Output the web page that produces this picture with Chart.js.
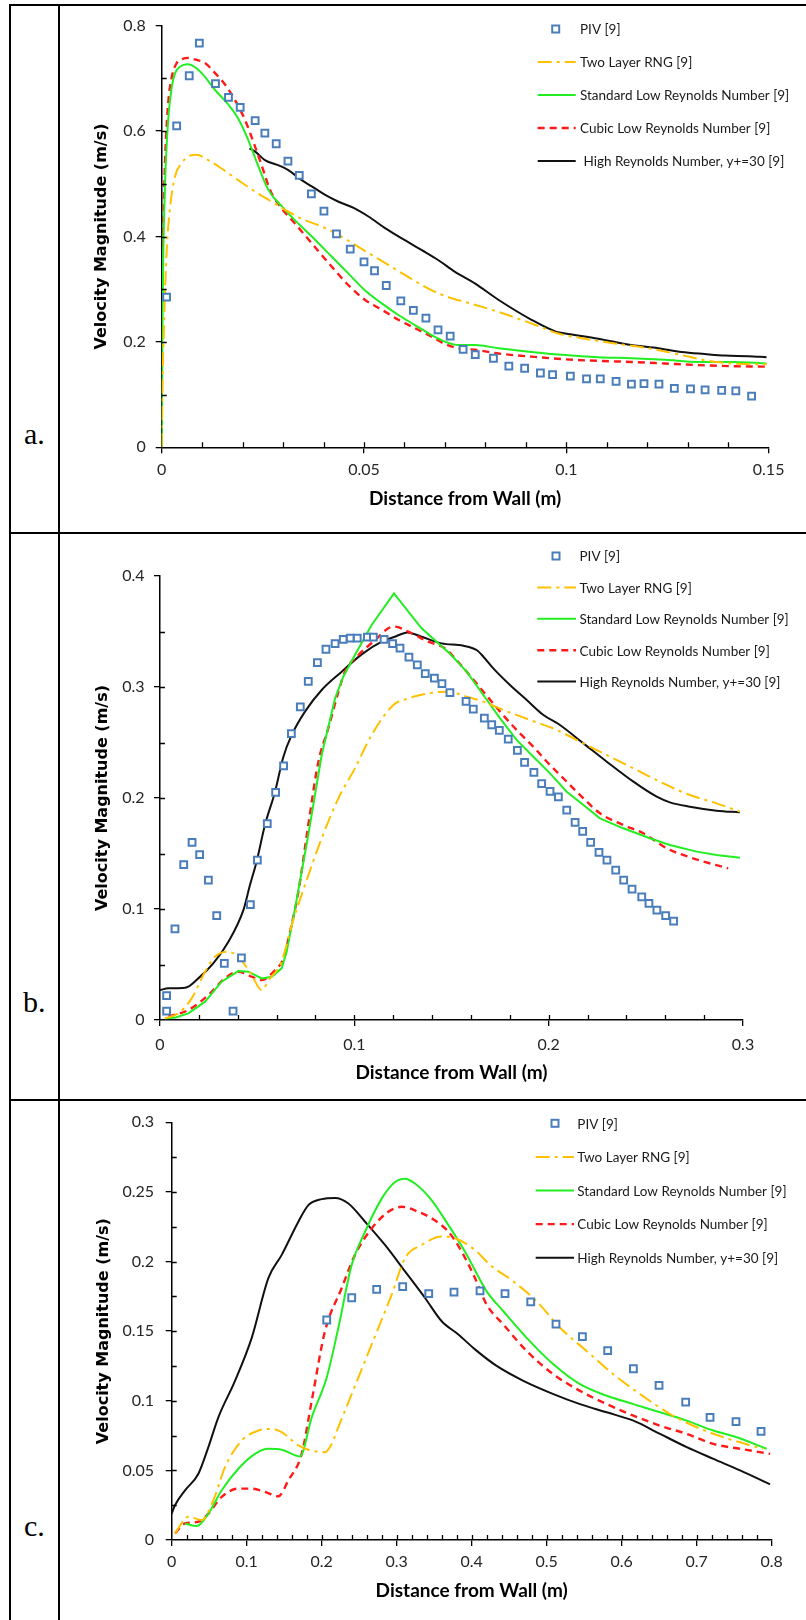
<!DOCTYPE html>
<html>
<head>
<meta charset="utf-8">
<title>Velocity magnitude profiles</title>
<script src="https://cdn.jsdelivr.net/npm/chart.js@4.4.0/dist/chart.umd.min.js"></script>
<style>
  body { margin: 0; background: #fff; width: 806px; height: 1620px; position: relative; overflow: hidden; }
  .rule { position: absolute; background: #000; }
  .tag { position: absolute; font-family: "Liberation Serif", serif; font-size: 30px; line-height: 30px; color: #000; }
  canvas { position: absolute; left: 61px; }
</style>
</head>
<body>
<!-- table frame -->
<div class="rule" style="left:9px;top:4px;width:797px;height:2px"></div>
<div class="rule" style="left:9px;top:4px;width:2px;height:1616px"></div>
<div class="rule" style="left:58px;top:4px;width:2px;height:1616px"></div>
<div class="rule" style="left:9px;top:532px;width:797px;height:2px"></div>
<div class="rule" style="left:9px;top:1099px;width:797px;height:2px"></div>

<div class="tag" style="left:24px;top:419px">a.</div>
<div class="tag" style="left:23px;top:987px">b.</div>
<div class="tag" style="left:24px;top:1511px">c.</div>

<canvas id="chartA" width="745" height="526" style="top:6px"></canvas>
<canvas id="chartB" width="745" height="565" style="top:534px"></canvas>
<canvas id="chartC" width="745" height="519" style="top:1101px"></canvas>

<script>
// series names (same in all three panels)
const seriesNames = ['PIV [9]', 'Two Layer RNG [9]', 'Standard Low Reynolds Number [9]',
                     'Cubic Low Reynolds Number [9]', 'High Reynolds Number, y+=30 [9]'];

// ---- panel a: [distance (m), velocity (m/s)] ----
const pivA = [[0.0012,0.285],[0.0037,0.610],[0.0068,0.705],[0.0093,0.767],[0.0133,0.690],[0.0165,0.664],
  [0.0194,0.645],[0.0231,0.620],[0.0255,0.596],[0.0283,0.576],[0.0312,0.543],[0.0340,0.516],[0.0370,0.481],
  [0.0401,0.448],[0.0432,0.405],[0.0466,0.376],[0.0500,0.352],[0.0526,0.335],[0.0555,0.307],[0.0591,0.278],
  [0.0622,0.260],[0.0653,0.245],[0.0683,0.223],[0.0713,0.211],[0.0745,0.186],[0.0775,0.176],[0.0820,0.169],
  [0.0858,0.154],[0.0897,0.150],[0.0936,0.141],[0.0966,0.138],[0.1010,0.135],[0.1050,0.130],[0.1084,0.130],
  [0.1123,0.125],[0.1161,0.120],[0.1192,0.121],[0.1229,0.120],[0.1267,0.112],[0.1307,0.111],[0.1343,0.109],
  [0.1384,0.108],[0.1419,0.107],[0.1458,0.097]];
const rngA = [[0,0],[0.0002,0.115],[0.0006,0.24],[0.0012,0.368],[0.0021,0.457],[0.0033,0.514],[0.0049,0.539],
  [0.0066,0.552],[0.0086,0.555],[0.0115,0.545],[0.0148,0.529],[0.0189,0.507],[0.0231,0.485],[0.0272,0.466],
  [0.0313,0.447],[0.0354,0.431],[0.0395,0.419],[0.0437,0.403],[0.0478,0.384],[0.0519,0.365],[0.0560,0.346],
  [0.0601,0.327],[0.0643,0.308],[0.0684,0.292],[0.0725,0.281],[0.0749,0.276],[0.0832,0.257],[0.0914,0.235],
  [0.0980,0.216],[0.1038,0.207],[0.1120,0.197],[0.1202,0.188],[0.1285,0.175],[0.1351,0.164],[0.1408,0.159],
  [0.1495,0.1575]];
const stdA = [[0,0],[0.0002,0.24],[0.0004,0.368],[0.0008,0.495],[0.0016,0.621],[0.0025,0.684],[0.0033,0.710],
  [0.0045,0.722],[0.0063,0.727],[0.0074,0.725],[0.0099,0.710],[0.0132,0.678],[0.0165,0.650],[0.0189,0.624],
  [0.0214,0.583],[0.0239,0.533],[0.0264,0.488],[0.0297,0.457],[0.0329,0.431],[0.0371,0.400],[0.0420,0.362],
  [0.0461,0.330],[0.0502,0.298],[0.0544,0.273],[0.0585,0.251],[0.0626,0.232],[0.0667,0.213],[0.0700,0.2005],
  [0.0733,0.194],[0.0774,0.194],[0.0832,0.188],[0.0914,0.181],[0.0997,0.175],[0.1079,0.171],[0.1161,0.169],
  [0.1244,0.166],[0.1326,0.162],[0.1408,0.162],[0.1495,0.159]];
const cubicA = [[0.0002,0.38],[0.0005,0.46],[0.0009,0.558],[0.0016,0.653],[0.0025,0.703],[0.0037,0.729],
  [0.0049,0.736],[0.0066,0.739],[0.0082,0.736],[0.0107,0.729],[0.0132,0.710],[0.0157,0.688],[0.0181,0.659],
  [0.0206,0.621],[0.0231,0.570],[0.0251,0.526],[0.0268,0.488],[0.0297,0.453],[0.0329,0.425],[0.0371,0.387],
  [0.0420,0.343],[0.0461,0.308],[0.0502,0.280],[0.0544,0.261],[0.0585,0.242],[0.0626,0.226],[0.0667,0.210],
  [0.0700,0.196],[0.0733,0.188],[0.0774,0.185],[0.0832,0.178],[0.0914,0.172],[0.0997,0.167],[0.1079,0.164],
  [0.1161,0.162],[0.1244,0.159],[0.1326,0.156],[0.1408,0.154],[0.1495,0.153]];
const highA = [[0.0217,0.567],[0.0231,0.561],[0.0255,0.545],[0.0292,0.534],[0.0313,0.526],[0.0346,0.507],
  [0.0371,0.495],[0.0404,0.479],[0.0437,0.466],[0.0478,0.453],[0.0511,0.438],[0.0552,0.416],[0.0601,0.393],
  [0.0643,0.374],[0.0684,0.355],[0.0725,0.333],[0.0774,0.311],[0.0832,0.280],[0.0914,0.242],[0.0976,0.219],
  [0.0997,0.216],[0.1079,0.206],[0.1161,0.194],[0.1227,0.188],[0.1285,0.181],[0.1342,0.177],[0.1392,0.174],
  [0.1450,0.173],[0.1495,0.171]];
const xTicksA = [0, 0.05, 0.1, 0.15];
const xLabelsA = ['0', '0.05', '0.1', '0.15'];
const yTicksA = [0, 0.2, 0.4, 0.6, 0.8];
const yLabelsA = ['0', '0.2', '0.4', '0.6', '0.8'];

// ---- panel b ----
const pivB = [[0.0034,0.022],[0.0034,0.008],[0.0077,0.082],[0.0122,0.140],[0.0165,0.160],[0.0204,0.149],
  [0.0249,0.126],[0.0292,0.094],[0.0331,0.051],[0.0376,0.008],[0.0419,0.056],[0.0465,0.104],[0.0501,0.144],
  [0.0552,0.177],[0.0595,0.205],[0.0636,0.229],[0.0676,0.258],[0.0722,0.282],[0.0763,0.305],[0.0810,0.322],
  [0.0854,0.334],[0.0901,0.339],[0.0943,0.343],[0.0979,0.344],[0.1015,0.344],[0.1067,0.345],[0.1098,0.345],
  [0.1153,0.343],[0.1197,0.339],[0.1235,0.335],[0.1281,0.327],[0.1324,0.320],[0.1365,0.312],[0.1412,0.308],
  [0.1451,0.303],[0.1492,0.295],[0.1575,0.287],[0.1612,0.280],[0.1669,0.272],[0.1707,0.266],[0.1746,0.261],
  [0.1792,0.253],[0.1839,0.243],[0.1876,0.232],[0.1924,0.223],[0.1964,0.213],[0.2007,0.206],[0.2050,0.201],
  [0.2093,0.189],[0.2136,0.178],[0.2175,0.170],[0.2216,0.160],[0.2259,0.151],[0.2300,0.144],[0.2345,0.135],
  [0.2386,0.126],[0.2429,0.118],[0.2479,0.111],[0.2516,0.105],[0.2557,0.099],[0.2602,0.094],[0.2643,0.089]];
const rngB = [[0.0026,0.0015],[0.0094,0.006],[0.0163,0.0195],[0.0232,0.0435],[0.0283,0.057],[0.0343,0.0616],
  [0.0403,0.057],[0.0472,0.0405],[0.0523,0.027],[0.0566,0.0375],[0.0626,0.0526],[0.0678,0.0856],[0.0746,0.1216],
  [0.0832,0.1637],[0.0918,0.1997],[0.1003,0.2267],[0.1089,0.2568],[0.1201,0.2838],[0.1278,0.2898],[0.1381,0.2943],
  [0.1484,0.2958],[0.1578,0.2913],[0.1664,0.2868],[0.1767,0.2793],[0.1904,0.2703],[0.2041,0.2613],[0.2179,0.2492],
  [0.2316,0.2372],[0.2453,0.2252],[0.2590,0.2132],[0.2727,0.2027],[0.2864,0.1952],[0.2984,0.1877]];
const stdB = [[0.0026,0.0015],[0.0077,0.002],[0.0146,0.006],[0.0232,0.0165],[0.0317,0.0345],[0.0403,0.0441],
  [0.0455,0.0435],[0.0523,0.0375],[0.0575,0.039],[0.0626,0.0465],[0.0652,0.0616],[0.0695,0.1006],[0.0763,0.1667],
  [0.0832,0.2387],[0.0901,0.2898],[0.0943,0.3093],[0.1003,0.3288],[0.1089,0.3559],[0.1204,0.3844],[0.1346,0.3529],
  [0.1492,0.3300],[0.1578,0.3138],[0.1664,0.2928],[0.1750,0.2718],[0.1835,0.2523],[0.1921,0.2372],[0.2007,0.2222],
  [0.2093,0.2057],[0.2179,0.1937],[0.2264,0.1817],[0.2384,0.1727],[0.2521,0.1637],[0.2624,0.1577],[0.2761,0.1517],
  [0.2864,0.1486],[0.2984,0.1462]];
const cubicB = [[0.0043,0.003],[0.0146,0.009],[0.0249,0.0225],[0.0334,0.0375],[0.0403,0.0435],[0.0472,0.039],
  [0.0523,0.036],[0.0592,0.045],[0.0635,0.0556],[0.0669,0.0796],[0.0712,0.1156],[0.0763,0.1757],[0.0815,0.2327],
  [0.0866,0.2628],[0.0918,0.2958],[0.0952,0.3138],[0.1021,0.3288],[0.1107,0.3423],[0.1175,0.3529],[0.1209,0.3544],
  [0.1278,0.3498],[0.1381,0.3408],[0.1467,0.3348],[0.1518,0.3258],[0.1578,0.3138],[0.1664,0.2958],[0.1750,0.2778],
  [0.1835,0.2613],[0.1921,0.2462],[0.2007,0.2297],[0.2093,0.2147],[0.2179,0.1997],[0.2264,0.1862],[0.2384,0.1757],
  [0.2487,0.1682],[0.2607,0.1547],[0.2744,0.1456],[0.2924,0.1366]];
const highB = [[0,0.027],[0.0043,0.0285],[0.0129,0.029],[0.0197,0.0375],[0.0274,0.051],[0.0352,0.0706],
  [0.0429,0.099],[0.0463,0.1216],[0.0497,0.1426],[0.0540,0.1757],[0.0592,0.2057],[0.0635,0.2372],[0.0678,0.2568],
  [0.0746,0.2778],[0.0832,0.2973],[0.0935,0.3138],[0.1038,0.3294],[0.1141,0.3408],[0.1209,0.3453],[0.1273,0.3492],
  [0.1346,0.3453],[0.1449,0.3393],[0.1561,0.3372],[0.1629,0.3333],[0.1664,0.3273],[0.1715,0.3168],[0.1801,0.3018],
  [0.1887,0.2883],[0.1973,0.2748],[0.2058,0.2658],[0.2179,0.2492],[0.2299,0.2327],[0.2436,0.2147],[0.2556,0.2012],
  [0.2624,0.1961],[0.2727,0.1922],[0.2864,0.1886],[0.2984,0.1871]];
const xTicksB = [0, 0.1, 0.2, 0.3];
const xLabelsB = ['0', '0.1', '0.2', '0.3'];
const yTicksB = [0, 0.1, 0.2, 0.3, 0.4];
const yLabelsB = ['0', '0.1', '0.2', '0.3', '0.4'];

// ---- panel c ----
const pivC = [[0.2067,0.158],[0.2400,0.174],[0.2733,0.180],[0.3080,0.182],[0.3427,0.177],[0.3764,0.178],
  [0.4111,0.179],[0.4444,0.177],[0.4787,0.171],[0.5124,0.155],[0.5476,0.146],[0.5813,0.136],[0.6156,0.123],
  [0.6498,0.111],[0.6853,0.099],[0.7178,0.088],[0.7524,0.085],[0.7858,0.078]];
const rngC = [[0.0044,0.0048],[0.0222,0.0167],[0.0400,0.0143],[0.0556,0.0286],[0.0711,0.0524],[0.0933,0.0714],
  [0.1156,0.0786],[0.1333,0.0798],[0.1467,0.0774],[0.1689,0.0679],[0.1822,0.0648],[0.2044,0.0631],[0.2133,0.069],
  [0.2222,0.081],[0.2400,0.1048],[0.2578,0.1286],[0.2756,0.1524],[0.2933,0.1762],[0.3111,0.2024],[0.3333,0.2119],
  [0.3600,0.2179],[0.3778,0.2167],[0.4044,0.2083],[0.4244,0.1976],[0.4556,0.1857],[0.4867,0.1714],[0.5178,0.1524],
  [0.5533,0.1357],[0.5889,0.119],[0.6244,0.1048],[0.6644,0.0905],[0.7000,0.081],[0.7356,0.0738],[0.7799,0.0667],
  [0.7888,0.0655]];
const stdC = [[0.0178,0.0119],[0.0333,0.010],[0.0489,0.019],[0.0667,0.0357],[0.0889,0.0512],[0.1111,0.0619],
  [0.1289,0.0655],[0.1467,0.0648],[0.1711,0.060],[0.1867,0.0881],[0.2067,0.1167],[0.2222,0.1524],[0.2400,0.1976],
  [0.2578,0.2214],[0.2800,0.2452],[0.2978,0.2571],[0.3111,0.2595],[0.3244,0.256],[0.3467,0.244],[0.3689,0.2262],
  [0.3911,0.2071],[0.4200,0.1786],[0.4422,0.1643],[0.4733,0.1452],[0.5089,0.1262],[0.5444,0.1119],[0.5800,0.1036],
  [0.6156,0.0976],[0.6511,0.0917],[0.6867,0.0857],[0.7222,0.0786],[0.7533,0.0738],[0.7933,0.0655]];
const cubicC = [[0.0044,0.0048],[0.0178,0.0119],[0.0356,0.0131],[0.0489,0.019],[0.0667,0.031],[0.0889,0.0369],
  [0.1067,0.0369],[0.1244,0.0345],[0.1422,0.0314],[0.1556,0.0429],[0.1733,0.0619],[0.1867,0.100],[0.2044,0.150],
  [0.2267,0.181],[0.2444,0.2048],[0.2667,0.2238],[0.2889,0.2357],[0.3067,0.2393],[0.3289,0.2357],[0.3467,0.231],
  [0.3689,0.2214],[0.3867,0.2071],[0.4044,0.1881],[0.4200,0.169],[0.4422,0.1548],[0.4733,0.1357],[0.5089,0.119],
  [0.5444,0.1071],[0.5800,0.0976],[0.6156,0.0893],[0.6511,0.0821],[0.6867,0.0762],[0.7222,0.069],[0.7578,0.0655],
  [0.7978,0.0619]];
const highC = [[0,0.019],[0.0044,0.025],[0.0178,0.0357],[0.0356,0.0476],[0.0489,0.0667],[0.0622,0.0881],
  [0.0844,0.1143],[0.1067,0.1452],[0.1289,0.1881],[0.1467,0.2048],[0.1689,0.2286],[0.1822,0.2405],[0.2000,0.2448],
  [0.2178,0.2457],[0.2356,0.2417],[0.2578,0.2286],[0.2844,0.2119],[0.3111,0.1929],[0.3378,0.1738],[0.3600,0.1571],
  [0.3822,0.1476],[0.4044,0.1369],[0.4333,0.125],[0.4689,0.1143],[0.5089,0.1048],[0.5444,0.0976],[0.5800,0.0917],
  [0.6156,0.0857],[0.6511,0.0762],[0.6867,0.0667],[0.7222,0.0583],[0.7578,0.050],[0.7978,0.040]];
const xTicksC = [0, 0.1, 0.2, 0.3, 0.4, 0.5, 0.6, 0.7, 0.8];
const xLabelsC = ['0', '0.1', '0.2', '0.3', '0.4', '0.5', '0.6', '0.7', '0.8'];
const yTicksC = [0, 0.05, 0.1, 0.15, 0.2, 0.25, 0.3];
const yLabelsC = ['0', '0.05', '0.1', '0.15', '0.2', '0.25', '0.3'];

const BLUE = '#4a7ebb', GOLD = '#ffc000', GREEN = '#22ee22', RED = '#ff1a1a', BLACK = '#111';

// minor (inside) tick marks and the legend drawn inside the plot
const extras = {
  id: 'extras',
  afterDraw(chart, args, opts) {
    const { ctx, chartArea: area, scales: { x, y } } = chart;
    ctx.save();
    ctx.strokeStyle = '#000';
    ctx.lineWidth = 1.3;
    ctx.beginPath();
    for (let v = opts.xMinor; v < x.max - 1e-9; v += opts.xMinor) {
      const px = Math.round(x.getPixelForValue(v)) + 0.5;
      ctx.moveTo(px, area.bottom);
      ctx.lineTo(px, area.bottom - 5);
    }
    for (let v = opts.yMinor; v < y.max - 1e-9; v += opts.yMinor) {
      const py = Math.round(y.getPixelForValue(v)) + 0.5;
      ctx.moveTo(area.left, py);
      ctx.lineTo(area.left + 5, py);
    }
    ctx.stroke();

    const lg = opts.legend;
    ctx.font = '13.5px Lato';
    ctx.fillStyle = '#1a1a1a';
    ctx.textBaseline = 'middle';
    chart.data.datasets.forEach((ds, i) => {
      const ly = lg.y0 + i * lg.dy;
      if (ds.showLine === false) {
        const s = 3.5;
        ctx.setLineDash([]);
        ctx.lineWidth = 2;
        ctx.strokeStyle = ds.borderColor;
        ctx.fillStyle = '#fff';
        ctx.fillRect(lg.mark - s, ly - s, 2 * s, 2 * s);
        ctx.strokeRect(lg.mark - s, ly - s, 2 * s, 2 * s);
        ctx.fillStyle = '#1a1a1a';
      } else {
        ctx.setLineDash(ds.borderDash || []);
        ctx.lineWidth = ds.borderWidth;
        ctx.strokeStyle = ds.borderColor;
        ctx.beginPath();
        ctx.moveTo(lg.x0, ly);
        ctx.lineTo(lg.x1, ly);
        ctx.stroke();
      }
      ctx.setLineDash([]);
      const label = (lg.lead && i === 4) ? ' ' + ds.label : ds.label;
      ctx.fillText(label, lg.text, ly + 1);
    });
    ctx.restore();
  }
};

const pts = arr => arr.map(p => ({ x: p[0], y: p[1] }));

function makeChart(id, p) {
  const lineSet = (label, data, color, width, dash, sharp) => ({
    label, data: pts(data), showLine: true, borderColor: color, backgroundColor: color,
    borderWidth: width, borderDash: dash, pointRadius: 0,
    cubicInterpolationMode: sharp ? 'default' : 'monotone', tension: sharp ? 0 : 0.4
  });
  return new Chart(document.getElementById(id), {
    type: 'scatter',
    data: {
      datasets: [
        { label: seriesNames[0], data: pts(p.piv), showLine: false, pointStyle: 'rect', pointRadius: 4.8,
          borderWidth: 2, borderColor: BLUE, backgroundColor: '#fff' },
        lineSet(seriesNames[1], p.rng, GOLD, 2, [14, 5, 3, 5]),
        lineSet(seriesNames[2], p.std, GREEN, 2, [], p.sharpStd),
        lineSet(seriesNames[3], p.cubic, RED, 2.4, [7, 5]),
        lineSet(seriesNames[4], p.high, BLACK, 2, [])
      ]
    },
    options: {
      responsive: false,
      animation: false,
      events: [],
      layout: { padding: { top: p.box.top, right: p.box.right, left: 0, bottom: 0 } },
      plugins: {
        legend: { display: false },
        tooltip: { enabled: false },
        extras: { xMinor: p.xMinor, yMinor: p.yMinor, legend: p.legend }
      },
      scales: {
        x: {
          type: 'linear', min: p.xTicks[0], max: p.xTicks[p.xTicks.length - 1],
          afterBuildTicks: s => { s.ticks = p.xTicks.map(v => ({ value: v })); },
          afterFit: s => { s.height = p.box.bottom; },
          ticks: { callback: (v, i) => p.xLabels[i], font: { family: 'Lato', size: 16 }, color: '#262626',
                   padding: p.xPad, maxRotation: 0, autoSkip: false },
          grid: { drawOnChartArea: false, drawTicks: true, tickLength: 6, color: '#000', lineWidth: 1.3 },
          border: { color: '#000', width: 1.5 },
          title: { display: true, text: 'Distance from Wall (m)', color: '#000',
                   font: { family: 'Lato', size: 19, weight: 'bold' }, padding: { top: 0, bottom: p.xTitlePad } }
        },
        y: {
          type: 'linear', min: p.yTicks[0], max: p.yTicks[p.yTicks.length - 1],
          afterBuildTicks: s => { s.ticks = p.yTicks.map(v => ({ value: v })); },
          afterFit: s => { s.width = p.box.left; },
          ticks: { callback: (v, i) => p.yLabels[i], font: { family: 'Lato', size: 16 }, color: '#262626',
                   padding: p.yPad, autoSkip: false },
          grid: { drawOnChartArea: false, drawTicks: true, tickLength: 6, color: '#000', lineWidth: 1.3 },
          border: { color: '#000', width: 1.5 },
          title: { display: true, text: 'Velocity Magnitude (m/s)', color: '#000',
                   font: { family: 'DejaVu Sans', size: 16, weight: 'bold' }, padding: { top: p.yTitlePad, bottom: 0 } }
        }
      }
    },
    plugins: [extras]
  });
}

makeChart('chartA', {
  piv: pivA, rng: rngA, std: stdA, cubic: cubicA, high: highA,
  xTicks: xTicksA, xLabels: xLabelsA, yTicks: yTicksA, yLabels: yLabelsA, xMinor: 0.01, yMinor: 0.1,
  box: { left: 100.7, right: 37.4, top: 19.7, bottom: 84.7 },
  xPad: 7, yPad: 10, xTitlePad: 21.6, yTitlePad: 31.4,
  legend: { mark: 494.7, x0: 476.7, x1: 514.7, text: 519, y0: 23, dy: 33, lead: true }
});

makeChart('chartB', {
  piv: pivB, rng: rngB, std: stdB, cubic: cubicB, high: highB, sharpStd: true,
  xTicks: xTicksB, xLabels: xLabelsB, yTicks: yTicksB, yLabels: yLabelsB, xMinor: 0.02, yMinor: 0.05,
  box: { left: 99, right: 63, top: 42, bottom: 79 },
  xPad: 9, yPad: 9.5, xTitlePad: 14.6, yTitlePad: 32.4,
  legend: { mark: 495, x0: 476.3, x1: 515, text: 518.5, y0: 22, dy: 31.4, lead: false }
});

makeChart('chartC', {
  piv: pivC, rng: rngC, std: stdC, cubic: cubicC, high: highC,
  xTicks: xTicksC, xLabels: xLabelsC, yTicks: yTicksC, yLabels: yLabelsC, xMinor: 0.02, yMinor: 0.025,
  box: { left: 110.7, right: 34.3, top: 19, bottom: 80 },
  xPad: 6.5, yPad: 11.7, xTitlePad: 17.6, yTitlePad: 33.4,
  legend: { mark: 494, x0: 474.7, x1: 513, text: 516.3, y0: 22.3, dy: 33.6, lead: false }
});
</script>
</body>
</html>
